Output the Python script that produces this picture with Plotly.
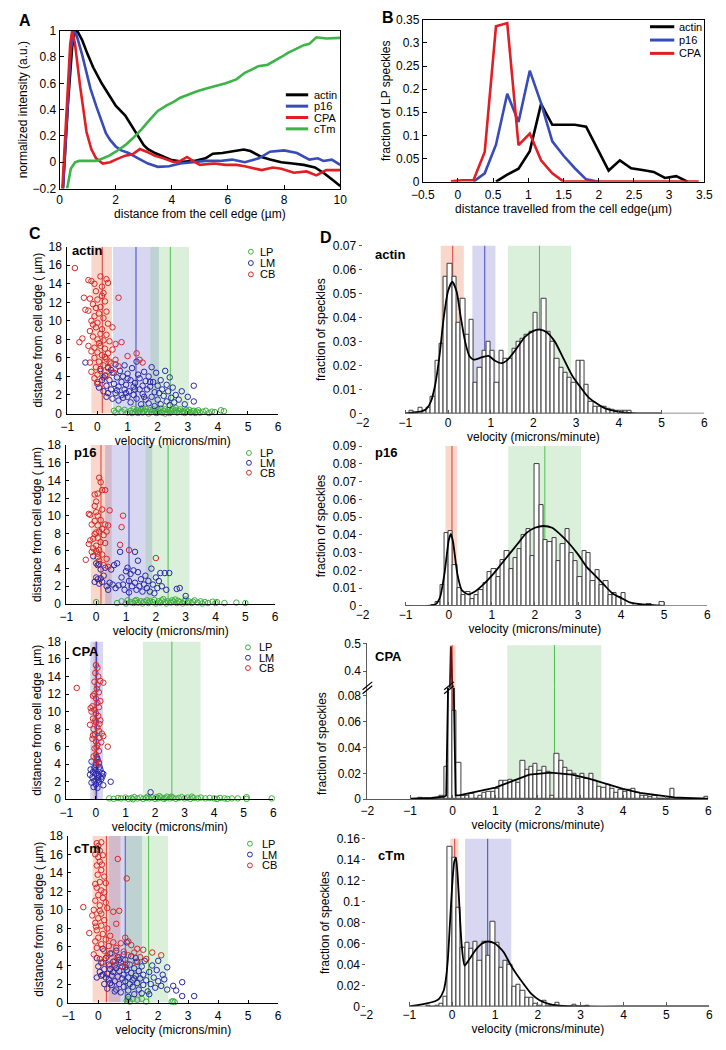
import numpy as np
import plotly.graph_objects as go

W, H = 726, 1050
FONT = "Liberation Sans, Arial, sans-serif"

# ---------------- panel A : intensity profiles ----------------
a_actin_x = [0.12, 0.3, 0.45, 0.55, 0.65, 0.8, 1.0, 1.2, 1.5, 1.77, 2.0, 2.34, 2.6, 2.8, 3.0, 3.15, 3.4, 3.73, 4.0, 4.4,
             4.8, 5.2, 5.46, 5.8, 6.1, 6.4, 6.56, 6.8, 7.2, 7.5, 7.9, 8.3, 8.7, 9.1, 9.4, 9.7, 10]
a_actin_y = [-0.2, 0.45, 0.88, 1.0, 0.99, 0.93, 0.82, 0.72, 0.6, 0.505, 0.43, 0.355, 0.27, 0.2, 0.13, 0.1, 0.07, 0.04, 0.016, 0.004,
             0.01, 0.03, 0.065, 0.07, 0.08, 0.09, 0.097, 0.085, 0.04, 0.02, 0.0, -0.01, -0.02, -0.04, -0.08, -0.13, -0.18]
a_p16_x = [0.12, 0.25, 0.4, 0.5, 0.6, 0.8, 0.96, 1.1, 1.3, 1.5, 1.65, 1.8, 2.0, 2.2, 2.46, 2.8, 3.15, 3.5, 3.9, 4.3,
           4.8, 5.2, 5.7, 6.15, 6.6, 7.1, 7.5, 8.0, 8.46, 8.9, 9.2, 9.4, 9.7, 10]
a_p16_y = [-0.2, 0.3, 0.85, 1.0, 0.97, 0.82, 0.68, 0.56, 0.43, 0.31, 0.22, 0.17, 0.12, 0.09, 0.07, 0.03, -0.01, -0.035, -0.03, -0.01,
           0.0, 0.01, 0.01, 0.02, 0.0, 0.03, 0.08, 0.09, 0.07, 0.02, 0.03, 0.01, 0.02, -0.02]
a_cpa_x = [0.1, 0.25, 0.38, 0.45, 0.55, 0.73, 0.85, 0.96, 1.13, 1.3, 1.54, 1.8, 2.0, 2.34, 2.6, 2.86, 3.1, 3.38, 3.7, 4.08,
           4.3, 4.54, 4.75, 5.0, 5.5, 5.92, 6.3, 6.6, 7.2, 7.6, 7.9, 8.35, 8.8, 9.15, 9.5, 10]
a_cpa_y = [-0.2, 0.4, 0.9, 1.0, 0.9, 0.58, 0.38, 0.23, 0.1, 0.03, -0.01, 0.0, 0.02, 0.05, 0.06, 0.1, 0.08, 0.05, 0.03, 0.0,
           0.01, 0.04, 0.01, -0.02, -0.01, -0.02, -0.02, -0.03, -0.06, -0.04, -0.05, -0.08, -0.07, -0.1, -0.06, -0.06]
a_ctm_x = [0.27, 0.4, 0.55, 0.7, 1.0, 1.3, 1.55, 1.77, 2.0, 2.34, 2.6, 2.92, 3.2, 3.5, 3.8, 4.08, 4.3, 4.54, 4.9, 5.23,
           5.6, 5.92, 6.3, 6.6, 6.9, 7.08, 7.4, 7.66, 7.9, 8.12, 8.4, 8.7, 8.9, 9.15, 9.5, 10]
a_ctm_y = [-0.2, -0.05, 0.0, 0.01, 0.01, 0.01, 0.03, 0.05, 0.08, 0.13, 0.18, 0.25, 0.32, 0.39, 0.43, 0.46, 0.49, 0.51, 0.54, 0.56,
           0.58, 0.6, 0.63, 0.68, 0.71, 0.73, 0.74, 0.77, 0.8, 0.83, 0.86, 0.89, 0.9, 0.95, 0.94, 0.945]

# ---------------- panel B : LP speckle distance ----------------
b_actin_x = [0.54, 0.7, 0.86, 1.02, 1.18, 1.34, 1.5, 1.66, 1.82, 1.98, 2.14, 2.3, 2.46, 2.62, 2.78, 2.94, 3.1, 3.26]
b_actin_y = [0, 0.015, 0.028, 0.066, 0.168, 0.123, 0.123, 0.123, 0.119, 0.07, 0.024, 0.046, 0.029, 0.025, 0.021, 0.008, 0.012, 0]
b_p16_x = [0.22, 0.38, 0.54, 0.7, 0.86, 1.02, 1.18, 1.34, 1.5, 1.66, 1.82, 1.98]
b_p16_y = [0, 0.018, 0.08, 0.19, 0.129, 0.24, 0.17, 0.087, 0.056, 0.029, 0.005, 0]
b_cpa_x = [-0.1, 0.06, 0.22, 0.38, 0.54, 0.7, 0.86, 1.02, 1.18, 1.34, 1.5, 1.66, 1.98, 2.46, 2.94, 3.42]
b_cpa_y = [0.001, 0.003, 0.003, 0.064, 0.336, 0.343, 0.079, 0.104, 0.046, 0.018, 0, 0, 0, 0, 0, 0]

# ---------------- panel C : velocity vs distance (v, d) ----------------
c_actin_cb = [(-0.75, 15.7), (-0.3, 14.4), (-0.2, 14.3), (-0.1, 14.0), (0.1, 14.8), (0.3, 14.5), (0.35, 14.1), (0.15, 13.7),
              (-0.05, 13.2), (0.2, 13.0), (-0.45, 12.5), (-0.25, 12.4), (0.0, 12.3), (0.25, 12.1), (-0.15, 11.8), (0.1, 11.5),
              (-0.4, 11.2), (-0.3, 11.1), (0.3, 11.0), (0.05, 10.8), (-0.1, 10.5), (0.2, 10.3), (-0.2, 10.0), (0.0, 9.8),
              (0.35, 9.7), (0.5, 9.3), (-0.05, 9.3), (0.15, 9.1), (-0.25, 8.9), (0.1, 8.6), (0.3, 8.5), (-0.15, 8.3),
              (-0.5, 8.1), (0.0, 8.0), (0.2, 7.9), (-0.6, 7.7), (0.4, 7.8), (0.8, 7.7), (0.6, 7.5), (-0.3, 7.3), (0.1, 7.3),
              (-0.1, 7.1), (0.25, 7.0), (0.5, 6.9), (-0.2, 6.7), (0.0, 6.6), (0.35, 6.5), (0.15, 6.3), (1.0, 6.2), (1.3, 6.5),
              (-0.1, 6.0), (0.3, 5.9), (0.6, 5.8), (1.4, 5.8), (0.05, 5.6), (-0.25, 5.5), (0.45, 5.4), (1.5, 5.5), (0.2, 5.2),
              (-0.05, 5.0), (0.7, 5.1), (0.35, 4.9), (0.1, 4.6), (-0.2, 4.5), (0.55, 4.4), (0.0, 4.2), (0.3, 4.1), (-0.1, 3.8),
              (0.7, 12.5), (0.0, 3.4), (0.05, 7.6), (-0.15, 9.6), (0.25, 6.1), (-0.05, 11.4), (0.15, 12.7), (0.4, 5.6)]
c_actin_lm = [(-0.4, 5.5), (0.0, 3.2), (0.05, 2.8), (0.1, 4.8), (0.15, 3.6), (0.2, 2.4), (0.25, 4.1), (0.3, 3.0), (0.3, 1.8),
              (0.35, 5.0), (0.4, 3.6), (0.45, 2.6), (0.5, 4.4), (0.5, 1.6), (0.55, 3.2), (0.6, 5.3), (0.6, 2.2), (0.65, 3.9),
              (0.7, 2.9), (0.7, 1.4), (0.75, 4.6), (0.8, 3.4), (0.8, 2.0), (0.85, 4.0), (0.9, 2.6), (0.9, 5.2), (0.95, 3.1),
              (1.0, 1.8), (1.0, 4.3), (1.05, 2.4), (1.1, 3.6), (1.1, 1.2), (1.15, 4.9), (1.2, 2.9), (1.2, 2.0), (1.25, 3.3),
              (1.3, 5.6), (1.3, 1.6), (1.35, 4.2), (1.4, 2.6), (1.4, 3.8), (1.45, 1.0), (1.5, 3.0), (1.5, 2.1), (1.55, 4.5),
              (1.6, 1.5), (1.6, 3.5), (1.65, 2.6), (1.7, 4.0), (1.7, 1.1), (1.75, 2.9), (1.8, 5.0), (1.8, 1.8), (1.85, 3.4),
              (1.9, 2.3), (1.9, 0.8), (1.95, 4.4), (2.0, 1.5), (2.0, 3.0), (2.05, 2.2), (2.1, 3.6), (2.1, 1.0), (2.15, 2.6),
              (2.2, 1.9), (2.25, 4.6), (2.3, 1.3), (2.3, 3.1), (2.35, 2.4), (2.4, 3.9), (2.4, 0.9), (2.45, 1.7), (2.5, 2.8),
              (2.55, 1.2), (2.6, 2.0), (2.7, 1.5), (2.8, 2.4), (2.9, 1.0), (3.0, 1.8), (3.2, 3.0), (3.2, 1.3), (0.2, 3.9),
              (0.45, 4.7), (0.65, 2.5), (0.85, 1.7), (1.0, 3.8), (1.25, 2.6), (1.55, 1.8), (1.75, 3.4), (0.35, 2.2), (0.95, 2.2)]
c_actin_lp = [(0.55, 0.3), (0.6, 0.1), (0.7, 0.5), (0.8, 0.2), (0.9, 0.4), (1.0, 0.1), (1.1, 0.3), (1.2, 0.5), (1.25, 0.15),
              (1.3, 0.35), (1.35, 0.05), (1.4, 0.25), (1.45, 0.45), (1.5, 0.1), (1.55, 0.3), (1.6, 0.5), (1.65, 0.2), (1.7, 0.0),
              (1.75, 0.35), (1.8, 0.15), (1.85, 0.45), (1.9, 0.25), (1.95, 0.05), (2.0, 0.4), (2.05, 0.2), (2.1, 0.55), (2.15, 0.1),
              (2.2, 0.3), (2.25, 0.45), (2.3, 0.15), (2.35, 0.35), (2.4, 0.05), (2.45, 0.25), (2.5, 0.5), (2.55, 0.2), (2.6, 0.35),
              (2.65, 0.1), (2.7, 0.3), (2.75, 0.45), (2.8, 0.15), (2.85, 0.25), (2.9, 0.05), (2.95, 0.35), (3.0, 0.2), (3.05, 0.4),
              (3.1, 0.1), (3.15, 0.25), (3.2, 0.3), (3.25, 0.05), (3.3, 0.2), (3.35, 0.35), (3.4, 0.1), (3.5, 0.2), (3.6, 0.3),
              (3.7, 0.05), (3.8, 0.2), (3.9, 0.15), (4.1, 0.35), (4.2, 0.25), (1.5, 0.6), (2.0, 0.1), (2.6, 0.6), (1.15, 0.05),
              (2.25, 0.0)]

c_p16_cb = [(0.1, 14.3), (0.15, 13.8), (0.2, 12.9), (0.3, 12.9), (-0.05, 12.4), (0.05, 12.5), (0.0, 11.6), (-0.05, 11.1), (0.2, 10.7),
            (0.45, 10.6), (0.0, 10.4), (-0.25, 10.2), (-0.2, 10.1), (0.05, 10.0), (0.9, 10.0), (0.15, 9.5), (-0.05, 9.4), (0.3, 9.0),
            (0.4, 8.9), (0.85, 8.7), (0.2, 8.5), (0.0, 8.1), (0.1, 8.2), (-0.05, 7.9), (0.25, 7.8), (0.05, 7.5), (-0.2, 7.2),
            (-0.25, 6.8), (0.3, 6.9), (0.15, 7.0), (0.0, 6.6), (-0.1, 6.3), (0.1, 6.1), (0.8, 6.7), (1.1, 6.1), (-0.15, 5.9),
            (0.05, 5.7), (0.2, 5.6), (0.35, 5.1), (-0.35, 5.0), (0.05, 5.3), (0.0, 6.0), (2.0, 5.2), (0.4, 4.2), (0.25, 4.4),
            (0.1, 4.9), (-0.1, 7.4), (0.35, 8.2), (0.05, 8.9), (-0.15, 9.0)]
c_p16_lm = [(-0.1, 5.4), (0.0, 4.6), (0.05, 4.4), (0.1, 4.5), (0.0, 3.0), (0.05, 2.8), (-0.05, 2.5), (0.1, 2.3), (0.15, 2.9),
            (0.2, 2.5), (0.15, 3.9), (0.3, 4.1), (0.35, 2.0), (0.4, 1.6), (0.45, 2.4), (0.5, 3.9), (0.55, 2.2), (0.6, 4.4),
            (0.7, 4.6), (0.75, 2.1), (0.8, 5.9), (0.85, 3.0), (0.9, 2.2), (0.95, 1.6), (1.0, 3.7), (1.05, 4.1), (1.1, 2.6),
            (1.1, 1.3), (1.15, 3.4), (1.2, 2.0), (1.25, 3.8), (1.3, 5.9), (1.3, 2.4), (1.35, 1.6), (1.4, 4.9), (1.4, 3.6),
            (1.45, 2.0), (1.5, 2.8), (1.55, 1.4), (1.6, 2.2), (1.65, 3.2), (1.7, 1.8), (1.75, 2.6), (1.8, 1.4), (1.85, 4.0),
            (1.9, 2.2), (1.95, 1.2), (2.0, 3.0), (2.05, 1.8), (2.1, 2.6), (2.15, 3.5), (2.2, 2.0), (2.3, 3.5), (2.45, 3.5),
            (2.35, 1.6), (2.7, 1.7), (2.8, 1.8), (3.0, 0.9), (0.25, 3.2), (0.65, 1.8)]
c_p16_lp = [(0.0, 0.2), (0.7, 0.1), (0.85, 0.3), (1.0, 0.05), (1.05, 0.4), (1.15, 0.2), (1.25, 0.1), (1.3, 0.35), (1.4, 0.15),
            (1.5, 0.3), (1.55, 0.05), (1.6, 0.25), (1.7, 0.4), (1.75, 0.1), (1.8, 0.3), (1.9, 0.2), (1.95, 0.45), (2.0, 0.05),
            (2.1, 0.3), (2.15, 0.15), (2.2, 0.4), (2.3, 0.2), (2.35, 0.05), (2.4, 0.3), (2.5, 0.15), (2.55, 0.4), (2.6, 0.25),
            (2.7, 0.1), (2.75, 0.35), (2.8, 0.2), (2.9, 0.05), (2.95, 0.3), (3.0, 0.5), (3.05, 0.15), (3.1, 0.3), (3.2, 0.1),
            (3.25, 0.25), (3.3, 0.4), (3.4, 0.15), (3.5, 0.3), (3.55, 0.05), (3.65, 0.2), (3.75, 0.1), (3.9, 0.25), (4.0, 0.1),
            (4.05, 0.2), (4.3, 0.1), (4.7, 0.15), (5.0, 0.1), (2.25, 0.55), (1.35, 0.45), (2.65, 0.5)]

c_cpa_cb = [(0.0, 15.3), (0.05, 15.0), (-0.02, 14.4), (0.08, 14.0), (0.15, 13.5), (0.25, 13.3), (-0.05, 13.4), (0.03, 12.6),
            (-0.65, 12.7), (0.1, 12.2), (-0.1, 11.8), (0.0, 11.5), (0.05, 11.0), (-0.12, 10.6), (-0.18, 10.4), (0.1, 10.5),
            (-0.05, 10.2), (0.0, 9.8), (0.08, 9.5), (-0.1, 9.2), (0.15, 9.0), (-0.2, 8.5), (0.0, 8.8), (0.05, 8.2), (-0.08, 8.0),
            (0.1, 7.8), (0.2, 7.5), (-0.03, 7.4), (0.25, 7.2), (0.12, 7.0), (-0.12, 6.9), (0.0, 6.6), (0.18, 6.5), (0.4, 6.0),
            (0.05, 6.2), (-0.05, 5.8), (0.1, 5.5), (0.0, 5.1), (-0.08, 4.9), (0.05, 4.5), (0.1, 4.1), (0.0, 4.2), (-0.15, 10.0),
            (0.05, 13.0), (-0.02, 9.0), (0.15, 11.2), (-0.1, 7.3), (0.02, 5.9), (0.12, 8.6), (-0.05, 12.0)]
c_cpa_lm = [(-0.15, 4.3), (0.05, 4.6), (0.1, 4.2), (0.0, 3.9), (-0.05, 3.6), (0.15, 3.4), (-0.1, 3.1), (0.2, 3.0), (-0.2, 2.8),
            (0.0, 2.9), (0.1, 2.7), (0.25, 2.9), (-0.12, 2.5), (0.05, 2.4), (0.18, 2.3), (-0.05, 2.1), (0.1, 2.0), (0.5, 2.0),
            (-0.15, 1.9), (0.0, 1.7), (0.25, 1.6), (-0.08, 1.4), (0.05, 1.3), (0.12, 3.7), (-0.02, 3.3), (0.08, 2.2), (0.22, 2.6),
            (-0.18, 3.4), (1.85, 0.8), (0.03, 4.8)]
c_cpa_lp = [(0.45, 0.1), (0.6, 0.05), (0.75, 0.15), (0.85, 0.1), (1.0, 0.2), (1.1, 0.05), (1.2, 0.15), (1.3, 0.25), (1.4, 0.1),
            (1.5, 0.2), (1.6, 0.05), (1.7, 0.15), (1.75, 0.3), (1.8, 0.1), (1.9, 0.2), (2.0, 0.05), (2.05, 0.25), (2.1, 0.1),
            (2.2, 0.2), (2.3, 0.05), (2.35, 0.15), (2.4, 0.3), (2.5, 0.1), (2.6, 0.2), (2.7, 0.05), (2.8, 0.15), (2.9, 0.25),
            (3.0, 0.1), (3.1, 0.2), (3.2, 0.05), (3.3, 0.15), (3.45, 0.1), (3.55, 0.2), (3.7, 0.1), (3.85, 0.15), (4.0, 0.1),
            (4.1, 0.05), (4.2, 0.15), (4.35, 0.1), (4.45, 0.05), (4.6, 0.1), (4.8, 0.1), (5.1, 0.25), (5.1, 0.05), (5.95, 0.1),
            (2.15, 0.35), (2.55, 0.3), (1.25, 0.0), (3.25, 0.3)]

c_ctm_cb = [(-0.05, 17.2), (0.1, 17.3), (0.0, 16.9), (0.05, 16.4), (-0.1, 16.0), (0.0, 15.7), (0.15, 15.9), (0.65, 15.5),
            (0.05, 15.2), (-0.05, 14.8), (0.1, 14.3), (-0.02, 13.8), (0.2, 13.6), (0.95, 13.4), (0.05, 13.0), (0.25, 12.9),
            (-0.05, 12.4), (0.1, 12.1), (0.2, 11.9), (0.0, 11.6), (0.15, 11.3), (-0.1, 11.0), (0.25, 10.8), (0.05, 10.5),
            (-0.5, 10.3), (0.3, 10.2), (-0.15, 10.0), (0.5, 9.8), (0.7, 9.9), (0.1, 9.6), (-0.2, 9.4), (0.0, 9.1), (0.2, 8.9),
            (-0.1, 8.6), (0.6, 8.5), (0.1, 8.3), (0.3, 8.0), (-0.05, 7.8), (-0.3, 7.5), (0.15, 7.4), (0.4, 7.2), (0.0, 7.0),
            (0.9, 7.0), (0.25, 6.8), (-0.1, 6.6), (0.5, 6.5), (0.75, 6.4), (1.0, 6.6), (0.1, 6.3), (0.35, 6.1), (1.1, 6.2),
            (-0.05, 5.9), (0.6, 5.9), (1.3, 5.8), (1.5, 5.7), (0.2, 5.6), (0.85, 5.5), (1.2, 5.4), (1.8, 5.4), (0.45, 5.3),
            (-0.15, 5.2), (1.0, 5.1), (2.1, 5.1), (0.3, 5.0), (0.7, 4.9), (1.4, 4.9), (1.6, 4.7), (0.05, 4.7), (0.55, 4.5),
            (1.25, 4.4), (0.15, 4.3), (0.95, 4.2), (0.4, 4.0), (0.8, 3.9), (-0.1, 12.8), (0.05, 9.9), (0.12, 14.9), (-0.08, 8.2)]
c_ctm_lm = [(-0.05, 4.8), (0.0, 3.9), (-0.05, 2.7), (0.05, 3.3), (0.1, 4.3), (0.1, 2.9), (0.2, 3.6), (0.2, 2.0), (0.25, 4.8),
            (0.3, 3.1), (0.3, 1.5), (0.35, 4.1), (0.35, 2.5), (0.4, 3.6), (0.4, 5.3), (0.45, 2.9), (0.45, 1.9), (0.5, 4.4),
            (0.5, 3.3), (0.55, 2.3), (0.55, 4.0), (0.6, 1.4), (0.6, 3.7), (0.65, 2.8), (0.65, 4.9), (0.7, 2.0), (0.7, 3.4),
            (0.75, 4.3), (0.75, 1.1), (0.8, 2.6), (0.8, 3.9), (0.85, 3.0), (0.85, 1.7), (0.9, 4.6), (0.9, 2.3), (0.95, 6.5),
            (0.95, 3.5), (1.0, 2.7), (1.0, 1.3), (1.05, 4.1), (1.05, 2.0), (1.1, 3.2), (1.1, 5.0), (1.15, 2.4), (1.15, 1.7),
            (1.2, 3.7), (1.2, 0.9), (1.25, 2.9), (1.3, 4.4), (1.3, 2.1), (1.35, 3.4), (1.35, 1.4), (1.4, 2.6), (1.45, 3.9),
            (1.5, 1.9), (1.5, 3.0), (1.55, 4.5), (1.6, 2.4), (1.65, 1.2), (1.7, 3.3), (1.75, 2.0), (1.8, 4.0), (1.85, 2.7),
            (1.9, 1.6), (1.95, 3.5), (2.0, 4.5), (2.0, 2.3), (2.1, 1.8), (2.15, 3.0), (2.2, 2.5), (2.3, 3.8), (2.3, 1.4),
            (2.5, 1.8), (2.6, 1.3), (2.8, 2.2), (2.8, 0.7), (3.2, 0.7), (0.15, 5.8), (0.6, 5.6), (0.85, 5.2), (1.0, 0.6),
            (0.25, 2.7), (0.55, 1.2), (0.7, 4.6), (1.25, 4.8), (1.45, 1.0), (1.7, 0.9), (0.4, 2.1), (0.9, 3.8), (1.2, 2.6),
            (0.15, 3.0)]
c_ctm_lp = [(0.95, 0.2), (1.05, 0.1), (1.15, 0.4), (1.3, 0.3), (1.45, 0.4), (1.6, 0.1), (2.45, 0.1), (2.5, 0.15), (2.55, 0.05),
            (1.0, 0.35)]

# bands: (low, mean, high) velocity for each population
c_bands = {
    "actin": {"CB": (-0.2, 0.16, 0.48), "LM": (0.52, 1.28, 2.04), "LP": (1.76, 2.42, 3.04)},
    "p16": {"CB": (-0.18, 0.16, 0.52), "LM": (0.3, 1.1, 1.88), "LP": (1.66, 2.41, 3.13)},
    "CPA": {"CB": (-0.08, 0.0, 0.08), "LM": (-0.19, 0.02, 0.24), "LP": (1.59, 2.57, 3.54)},
    "cTm": {"CB": (-0.19, 0.27, 0.74), "LM": (0.35, 0.9, 1.46), "LP": (0.9, 1.68, 2.33)},
}

# ---------------- panel D : velocity histograms ----------------
bin_w = 0.1
d_actin_start = -0.9
d_actin_h = [0.001, 0.0005, 0.0025, 0.001, 0.0025, 0.007, 0.022, 0.029, 0.057, 0.0625,
             0.057, 0.038, 0.048, 0.033, 0.039, 0.013, 0.019, 0.026, 0.030, 0.026,
             0.013, 0.026, 0.023, 0.023, 0.027, 0.030, 0.031, 0.033, 0.034, 0.042,
             0.035, 0.048, 0.034, 0.030, 0.023, 0.019, 0.017, 0.015, 0.013, 0.022,
             0.022, 0.012, 0.005, 0.003, 0.003, 0.003, 0.002, 0.0015, 0.001, 0.001,
             0.001, 0.001]
d_p16_start = -0.4
d_p16_h = [0.0005, 0.002, 0.012, 0.041, 0.042, 0.023, 0.010, 0.006, 0.008, 0.004,
           0.006, 0.009, 0.013, 0.019, 0.021, 0.016, 0.026, 0.031, 0.021, 0.027,
           0.032, 0.040, 0.043, 0.028, 0.080, 0.057, 0.037, 0.036, 0.038, 0.025,
           0.035, 0.043, 0.030, 0.025, 0.016, 0.031, 0.030, 0.014, 0.020, 0.012,
           0.014, 0.006, 0.007, 0.005, 0.007, 0.0, 0.0, 0.001, 0.0, 0.0,
           0.001, 0.0, 0.0, 0.002]
d_cpa_start = -0.8
d_cpa_h = [0.001, 0.0, 0.0, 0.0, 0.001, 0.003, 0.025, 0.30, 0.068, 0.028,
           0.003, 0.003, 0.004, 0.0, 0.003, 0.005, 0.006, 0.006, 0.008, 0.014,
           0.014, 0.015, 0.014, 0.013, 0.030, 0.023, 0.025, 0.027, 0.022, 0.025,
           0.021, 0.003, 0.035, 0.030, 0.024, 0.022, 0.020, 0.016, 0.020, 0.016,
           0.020, 0.014, 0.010, 0.009, 0.011, 0.008, 0.005, 0.007, 0.006, 0.007,
           0.008, 0.005, 0.003, 0.003, 0.002, 0.003, 0.0, 0.0, 0.0, 0.008,
           0.0, 0.0, 0.0, 0.0, 0.0, 0.0, 0.0, 0.002]
d_ctm_start = -0.6
d_ctm_h = [0.0005, 0.0, 0.001, 0.003, 0.009, 0.152, 0.142, 0.094, 0.056, 0.061,
           0.055, 0.062, 0.044, 0.062, 0.048, 0.081, 0.061, 0.037, 0.044, 0.040,
           0.019, 0.021, 0.015, 0.0085, 0.0085, 0.003, 0.001, 0.005, 0.001, 0.0005,
           0.0035, 0.0, 0.0, 0.0, 0.002, 0.0, 0.0, 0.001]

d_actin_fit_x = [-1, -0.6, -0.5, -0.4, -0.3, -0.2, -0.1, 0, 0.1, 0.2, 0.3, 0.4, 0.5, 0.6, 0.8, 0.95, 1.1, 1.25, 1.4, 1.6,
                 1.8, 2.0, 2.15, 2.3, 2.5, 2.7, 2.9, 3.1, 3.3, 3.5, 3.7, 4.0, 4.3, 5.0]
d_actin_fit_y = [0, 0.001, 0.002, 0.005, 0.012, 0.024, 0.04, 0.051, 0.055, 0.051, 0.04, 0.03, 0.024, 0.0225, 0.0235, 0.024,
                 0.022, 0.021, 0.0225, 0.027, 0.032, 0.0345, 0.035, 0.034, 0.03, 0.023, 0.016, 0.011, 0.0065, 0.004, 0.002,
                 0.0007, 0.0001, 0]
d_p16_fit_x = [-1, -0.5, -0.3, -0.2, -0.1, 0, 0.05, 0.1, 0.2, 0.3, 0.45, 0.6, 0.8, 1.0, 1.2, 1.4, 1.6, 1.8, 2.0, 2.2,
               2.4, 2.6, 2.8, 3.0, 3.2, 3.4, 3.6, 3.8, 4.0, 4.2, 4.5, 5.0]
d_p16_fit_y = [0, 0, 0.001, 0.005, 0.018, 0.037, 0.0405, 0.036, 0.018, 0.009, 0.0065, 0.008, 0.012, 0.017, 0.023, 0.029,
               0.035, 0.041, 0.044, 0.045, 0.044, 0.04, 0.035, 0.029, 0.022, 0.017, 0.012, 0.007, 0.0045, 0.002, 0.0008, 0]
d_cpa_fit_x = [-1, -0.5, -0.2, -0.15, -0.11, -0.04, 0.03, 0.07, 0.15, 0.3, 0.6, 1.0, 1.4, 1.8, 2.3, 2.8, 3.2, 3.6, 4.0,
               4.4, 4.8, 5.2, 6.0]
d_cpa_fit_y = [0.0005, 0.001, 0.002, 0.003, 0.08, 0.49, 0.08, 0.003, 0.003, 0.004, 0.006, 0.009, 0.014, 0.019, 0.0205,
               0.019, 0.016, 0.012, 0.008, 0.005, 0.003, 0.0015, 0.0003]
d_ctm_fit_x = [-1, -0.7, -0.4, -0.3, -0.2, -0.15, -0.1, -0.05, 0, 0.05, 0.09, 0.15, 0.22, 0.29, 0.4, 0.55, 0.7, 0.83, 1.0,
               1.2, 1.36, 1.5, 1.66, 1.85, 2.04, 2.3, 2.6, 3.0, 4, 5, 6]
d_ctm_fit_y = [0, 0.002, 0.005, 0.0075, 0.015, 0.025, 0.045, 0.08, 0.115, 0.138, 0.142, 0.11, 0.06, 0.039, 0.045, 0.054,
               0.06, 0.062, 0.06, 0.052, 0.04, 0.031, 0.022, 0.012, 0.006, 0.002, 0.0005, 0, 0, 0, 0]

d_bands = {
    "actin": {"CB": (-0.17, 0.11, 0.37), "LM": (0.57, 0.86, 1.11), "LP": (1.4, 2.14, 2.88)},
    "p16": {"CB": (-0.075, 0.075, 0.195), "LP": (1.38, 2.23, 3.07)},
    "CPA": {"CB": (-0.08, -0.01, 0.07), "LP": (1.28, 2.39, 3.49)},
    "cTm": {"CB": (-0.04, 0.06, 0.15), "LM": (0.3, 0.83, 1.38)},
}

# ---------------- styling ----------------
A_COLORS = {"actin": "black", "p16": "rgb(55,75,185)", "CPA": "rgb(225,30,35)", "cTm": "rgb(60,180,70)"}
PT_COL = {"LP": "rgb(60,175,60)", "LM": "rgb(40,40,165)", "CB": "rgb(215,40,40)"}
BAND_COL = {"LP": "rgba(110,195,110,0.25)", "LM": "rgba(110,110,210,0.28)", "CB": "rgba(235,130,90,0.32)"}
LINE_COL = {"LP": "rgb(80,190,80)", "LM": "rgb(70,70,190)", "CB": "rgb(220,60,60)"}


def dx(a, b):
    return [a / W, b / W]


def dy(top, bottom):
    return [1 - bottom / H, 1 - top / H]


tickfont = dict(family=FONT, size=12, color="black")
titlefont = dict(family=FONT, size=12, color="black")

fig = go.Figure()
layout = dict(width=W, height=H, margin=dict(l=0, r=0, t=0, b=0), paper_bgcolor="white",
              plot_bgcolor="rgba(0,0,0,0)", showlegend=False, font=dict(family=FONT, color="black"),
              shapes=[], annotations=[])


def box_axis(dom, rng, dtick, title, anchor, mirror=True, standoff=2, **kw):
    d = dict(domain=dom, range=rng, dtick=dtick, anchor=anchor, showline=True, mirror=mirror, linecolor="black",
             linewidth=1, ticks="inside", ticklen=4, tickcolor="black", showgrid=False, zeroline=False,
             tickfont=tickfont, title=dict(text=title, font=titlefont, standoff=standoff))
    d.update(kw)
    return d


# Panel A
layout["xaxis"] = box_axis(dx(49, 338), [0, 10], 2, "distance from the cell edge (µm)", "y")
layout["yaxis"] = box_axis(dy(24, 184), [-0.2, 1], 0.2, "normalized intensity (a.u.)", "x")
for name, xs, ys in [("actin", a_actin_x, a_actin_y), ("p16", a_p16_x, a_p16_y),
                     ("CPA", a_cpa_x, a_cpa_y), ("cTm", a_ctm_x, a_ctm_y)]:
    fig.add_trace(go.Scatter(x=xs, y=ys, mode="lines", line=dict(color=A_COLORS[name], width=2.6),
                             xaxis="x", yaxis="y"))

# Panel B
layout["xaxis2"] = box_axis(dx(423, 713), [-0.5, 3.5], 0.5, "distance travelled from the cell edge(µm)", "y2",
                            ticklabelstandoff=2)
layout["yaxis2"] = box_axis(dy(13, 177), [0, 0.35], 0.05, "fraction of LP speckles", "x2")
for name, xs, ys in [("actin", b_actin_x, b_actin_y), ("p16", b_p16_x, b_p16_y), ("CPA", b_cpa_x, b_cpa_y)]:
    fig.add_trace(go.Scatter(x=xs, y=ys, mode="lines", line=dict(color=A_COLORS[name], width=2.6),
                             xaxis="x2", yaxis="y2"))


# legends for A and B (line keys)
def line_legend(x0, x1, xt, rows, names):
    for yy, name in zip(rows, names):
        layout["shapes"].append(dict(type="line", xref="paper", yref="paper", x0=x0 / W, x1=x1 / W,
                                     y0=1 - yy / H, y1=1 - yy / H, line=dict(color=A_COLORS[name], width=3)))
        layout["annotations"].append(dict(text=name, x=xt / W, y=1 - yy / H, xref="paper", yref="paper",
                                          xanchor="left", yanchor="middle", showarrow=False,
                                          font=dict(family=FONT, size=11, color="black")))


line_legend(282, 305, 309, [89, 100.5, 112, 123.5], ["actin", "p16", "CPA", "cTm"])
line_legend(657, 682, 685, [20, 33.5, 47], ["actin", "p16", "CPA"])

# Panel C
c_geom = [("actin", (57, 274), (243, 412), c_actin_lp, c_actin_lm, c_actin_cb, "distance from cell edge ( µm)"),
          ("p16", (56, 271), (444, 605), c_p16_lp, c_p16_lm, c_p16_cb, "distance from cell edge ( µm)"),
          ("CPA", (56, 269), (643, 803), c_cpa_lp, c_cpa_lm, c_cpa_cb, "distance from cell edge  µm)"),
          ("cTm", (58, 274), (840, 1009), c_ctm_lp, c_ctm_lm, c_ctm_cb, "distance from cell edge ( µm)")]
leg_c = {"actin": (246, 253, [248, 259.5, 271]), "p16": (244, 253, [452, 462, 472]),
         "CPA": (243, 252, [649, 659.5, 670]), "cTm": (245, 255, [848, 859, 870])}
lbl_c = {"actin": (60, 247), "p16": (62, 452), "CPA": (60, 653), "cTm": (62, 853)}

for i, (name, xd, yd, lp, lm, cb, ytitle) in enumerate(c_geom):
    n = 3 + i
    xa, ya = f"x{n}", f"y{n}"
    layout[f"xaxis{n}"] = box_axis(dx(*xd), [-1, 6], 1, "velocity (microns/min)", ya, mirror=False,
                                   ticklen=3, standoff=0, ticklabelstandoff=2)
    layout[f"yaxis{n}"] = box_axis(dy(*yd), [0, 18], 2, ytitle, xa, mirror=False, ticklen=3, standoff=3,
                                   ticklabelstandoff=2)
    for pop in ["CB", "LM", "LP"]:
        lo, mu, hi = c_bands[name][pop]
        layout["shapes"].append(dict(type="rect", xref=xa, yref=ya, x0=lo, x1=hi, y0=0, y1=18,
                                     fillcolor=BAND_COL[pop], line=dict(width=0), layer="below"))
        layout["shapes"].append(dict(type="line", xref=xa, yref=ya, x0=mu, x1=mu, y0=0, y1=18,
                                     line=dict(color=LINE_COL[pop], width=1), layer="below"))
    for pop, pts in [("LP", lp), ("LM", lm), ("CB", cb)]:
        v = [p[0] for p in pts]
        d = [p[1] for p in pts]
        fig.add_trace(go.Scatter(x=v, y=d, mode="markers", xaxis=xa, yaxis=ya, cliponaxis=False,
                                 marker=dict(symbol="circle-open", size=5.5, color=PT_COL[pop],
                                             line=dict(width=1, color=PT_COL[pop]))))
    cx, tx, rows = leg_c[name]
    for pop, yy in zip(["LP", "LM", "CB"], rows):
        layout["shapes"].append(dict(type="circle", xref="paper", yref="paper",
                                     x0=(cx - 2.5) / W, x1=(cx + 2.5) / W, y0=1 - (yy + 2.5) / H,
                                     y1=1 - (yy - 2.5) / H, line=dict(color=PT_COL[pop], width=1)))
        layout["annotations"].append(dict(text=pop, x=tx / W, y=1 - yy / H, xref="paper", yref="paper",
                                          xanchor="left", yanchor="middle", showarrow=False,
                                          font=dict(family=FONT, size=11, color="black")))
    lx, ly = lbl_c[name]
    layout["annotations"].append(dict(text=f"<b>{name}</b>", x=lx / W, y=1 - ly / H, xref="paper", yref="paper",
                                      xanchor="left", yanchor="middle", showarrow=False,
                                      font=dict(family=FONT, size=13, color="black")))

# Panel D
d_geom = [("actin", (361, 713), (242, 412), [0, 0.07], 0.01, d_actin_start, d_actin_h, d_actin_fit_x, d_actin_fit_y),
          ("p16", (361, 716), (445, 607), [0, 0.09], 0.01, d_p16_start, d_p16_h, d_p16_fit_x, d_p16_fit_y),
          ("CPA", (366, 717), (690, 803), [0, 0.086], 0.02, d_cpa_start, d_cpa_h, d_cpa_fit_x, d_cpa_fit_y),
          ("cTm", (365, 718), (843, 1013), [0, 0.16], 0.02, d_ctm_start, d_ctm_h, d_ctm_fit_x, d_ctm_fit_y)]
lbl_d = {"actin": (372, 251), "p16": (372, 452), "CPA": (372, 658), "cTm": (375, 860)}

for i, (name, xd, yd, yr, ydt, start, hts, fx, fy) in enumerate(d_geom):
    n = 7 + i
    xa, ya = f"x{n}", f"y{n}"
    is_cpa = name == "CPA"
    layout[f"xaxis{n}"] = dict(domain=dx(*xd), range=[-2, 6], dtick=1, anchor=ya, showline=is_cpa,
                               linecolor="rgb(90,90,90)", ticks="inside", ticklen=4, tickcolor="rgb(90,90,90)",
                               showgrid=False, zeroline=False, tickfont=tickfont,
                               title=dict(text="velocity (microns/minute)", font=titlefont, standoff=0))
    yax = dict(domain=dy(*yd), range=yr, dtick=ydt, anchor=xa, showline=is_cpa, linecolor="rgb(90,90,90)",
               ticks="outside", ticklen=3, tickcolor="rgb(90,90,90)", showgrid=False, zeroline=False,
               tickfont=tickfont, title=dict(text="fraction of speckles", font=titlefont, standoff=4))
    if is_cpa:
        yax["tickvals"] = [0, 0.02, 0.04, 0.06, 0.08]
        yax["ticktext"] = ["0", "0.02", "0.04", "0.06", "0.08"]
        yax["title"]["standoff"] = 8
    layout[f"yaxis{n}"] = yax
    for pop, (lo, mu, hi) in d_bands[name].items():
        layout["shapes"].append(dict(type="rect", xref=xa, yref=f"{ya} domain", x0=lo, x1=hi, y0=0, y1=1,
                                     fillcolor=BAND_COL[pop], line=dict(width=0), layer="below"))
        layout["shapes"].append(dict(type="line", xref=xa, yref=f"{ya} domain", x0=mu, x1=mu, y0=0, y1=1,
                                     line=dict(color=LINE_COL[pop], width=1), layer="below"))
    if not is_cpa:
        layout["shapes"].append(dict(type="line", xref=xa, yref=ya, x0=-1, x1=6, y0=0, y1=0,
                                     line=dict(color="rgb(110,110,110)", width=1.5)))
    centers = np.round(start + bin_w * (np.arange(len(hts)) + 0.5), 3)
    fig.add_trace(go.Bar(x=centers, y=hts, width=bin_w, xaxis=xa, yaxis=ya,
                         marker=dict(color="white", line=dict(color="rgb(60,60,60)", width=1))))
    fig.add_trace(go.Scatter(x=fx, y=fy, mode="lines", xaxis=xa, yaxis=ya,
                             line=dict(color="black", width=1.8, shape="linear" if is_cpa else "spline",
                                       smoothing=0.6)))
    lx, ly = lbl_d[name]
    layout["annotations"].append(dict(text=f"<b>{name}</b>", x=lx / W, y=1 - ly / H, xref="paper", yref="paper",
                                      xanchor="left", yanchor="middle", showarrow=False,
                                      font=dict(family=FONT, size=13, color="black")))

# CPA upper (broken) axis section
layout["xaxis11"] = dict(domain=dx(366, 717), range=[-2, 6], anchor="y11", visible=False)
layout["yaxis11"] = dict(domain=dy(645, 690), range=[0.34, 0.5], anchor="x11", showline=True,
                         linecolor="rgb(90,90,90)", ticks="outside", ticklen=3, tickcolor="rgb(90,90,90)",
                         tickvals=[0.4, 0.5], ticktext=["0.4", "0.5"], showgrid=False, zeroline=False,
                         tickfont=tickfont)
for pop, (lo, mu, hi) in d_bands["CPA"].items():
    layout["shapes"].append(dict(type="rect", xref="x11", yref="y11 domain", x0=lo, x1=hi, y0=0, y1=0.96,
                                 fillcolor=BAND_COL[pop], line=dict(width=0), layer="below"))
    layout["shapes"].append(dict(type="line", xref="x11", yref="y11 domain", x0=mu, x1=mu, y0=0, y1=0.96,
                                 line=dict(color=LINE_COL[pop], width=1), layer="below"))
fig.add_trace(go.Scatter(x=d_cpa_fit_x, y=d_cpa_fit_y, mode="lines", xaxis="x11", yaxis="y11",
                         line=dict(color="rgb(90,20,20)", width=1.8)))

# break marks
for bx in [366, 450]:
    for off in [-2, 2]:
        layout["shapes"].append(dict(type="line", xref="paper", yref="paper",
                                     x0=(bx - 5) / W, x1=(bx + 5) / W,
                                     y0=1 - (690 + off + 4) / H, y1=1 - (690 + off - 4) / H,
                                     line=dict(color="black", width=1.2)))

# panel letters
for letter, (lx, ly) in {"A": (13, 14), "B": (387, 11), "C": (24, 230), "D": (323, 234)}.items():
    layout["annotations"].append(dict(text=f"<b>{letter}</b>", x=lx / W, y=1 - ly / H, xref="paper",
                                      yref="paper", xanchor="center", yanchor="middle", showarrow=False,
                                      font=dict(family=FONT, size=16, color="black")))

layout["bargap"] = 0
fig.update_layout(**layout)
# the page's default body margin would shift the whole figure by 8 px
fig.write_html("out.html", config={"displayModeBar": False},
               post_script="document.body.style.margin='0px';")
